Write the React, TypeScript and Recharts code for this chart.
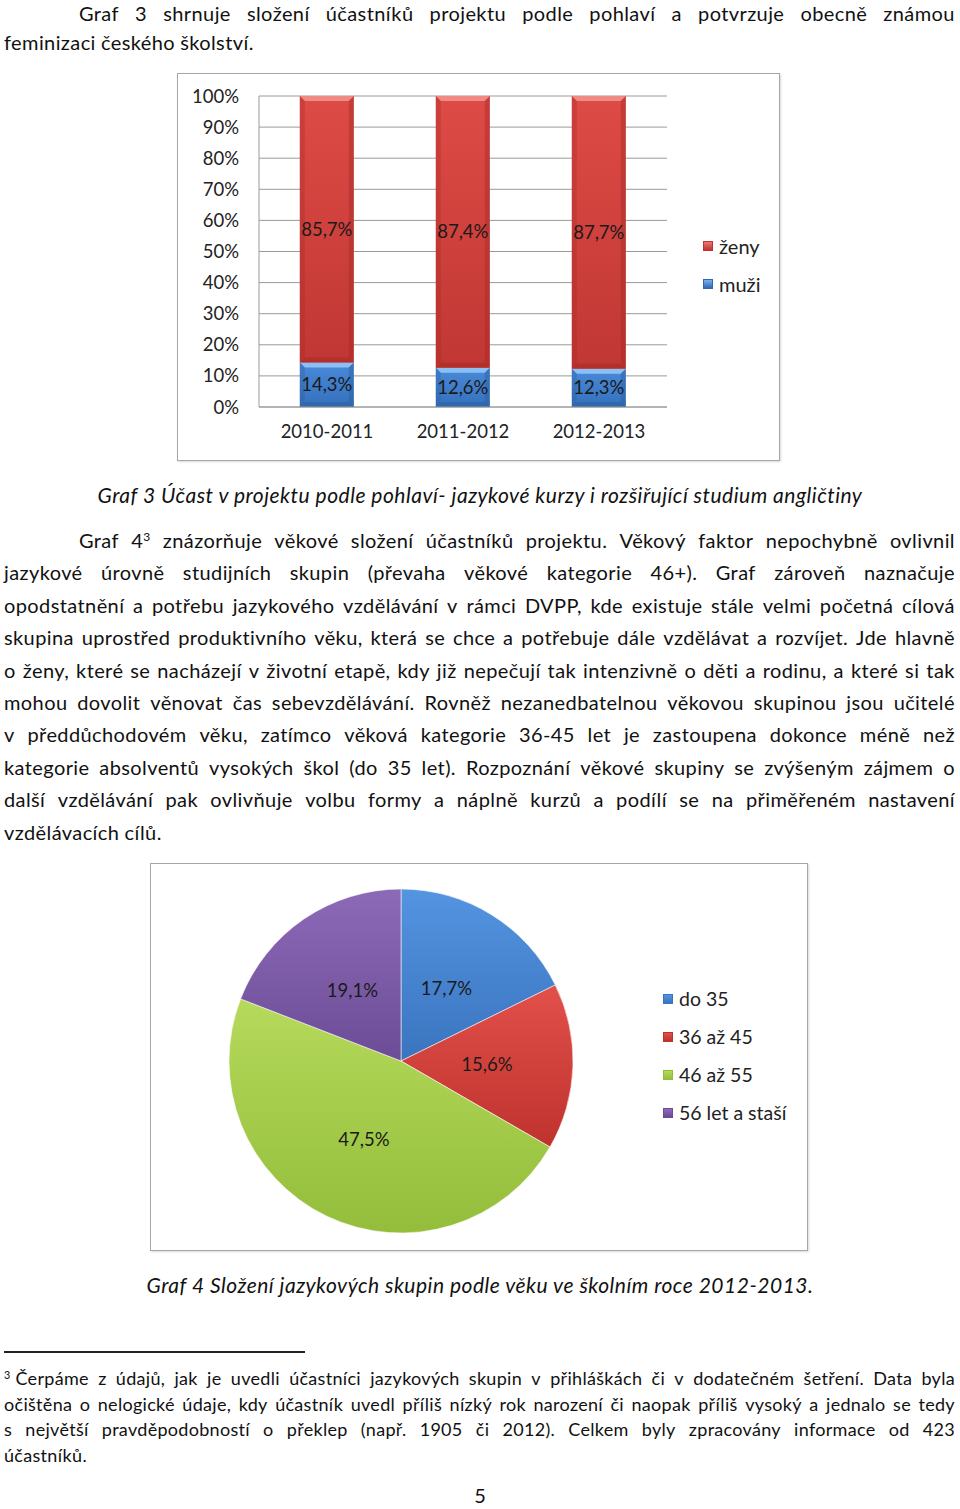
import React from "react";
import { BarChart, Bar, XAxis, YAxis, CartesianGrid, Legend, LabelList, PieChart, Pie, Cell } from "recharts";

// Graf 3 - gender split per school year
const years = ["2010-2011", "2011-2012", "2012-2013"];
const zenyPct = [85.7, 87.4, 87.7];
const muziPct = [14.3, 12.6, 12.3];
const yTicks = [0, 10, 20, 30, 40, 50, 60, 70, 80, 90, 100];

// Graf 4 - age groups 2012-2013
const ageGroups = ["do 35", "36 až 45", "46 až 55", "56 let a staší"];
const agePct = [17.7, 15.6, 47.5, 19.1];

const para1 = [
  "Graf 3 shrnuje složení účastníků projektu podle pohlaví a potvrzuje obecně známou",
  "feminizaci českého školství.",
];
const para2 = [
  "Graf 4^3 znázorňuje věkové složení účastníků projektu. Věkový faktor nepochybně ovlivnil",
  "jazykové úrovně studijních skupin (převaha věkové kategorie 46+). Graf zároveň naznačuje",
  "opodstatnění a potřebu jazykového vzdělávání v rámci DVPP, kde existuje stále velmi početná cílová",
  "skupina uprostřed produktivního věku, která se chce a potřebuje dále vzdělávat a rozvíjet. Jde hlavně",
  "o ženy, které se nacházejí v životní etapě, kdy již nepečují tak intenzivně o děti a rodinu, a které si tak",
  "mohou dovolit věnovat čas sebevzdělávání. Rovněž nezanedbatelnou věkovou skupinou jsou učitelé",
  "v předdůchodovém věku, zatímco věková kategorie 36-45 let je zastoupena dokonce méně než",
  "kategorie absolventů vysokých škol (do 35 let). Rozpoznání věkové skupiny se zvýšeným zájmem o",
  "další vzdělávání pak ovlivňuje volbu formy a náplně kurzů a podílí se na přiměřeném nastavení",
  "vzdělávacích cílů.",
];
const para2Y = [540, 572, 605, 637, 670, 702, 734, 767, 799, 832];
const footnote = [
  "^3\u00a0Čerpáme z údajů, jak je uvedli účastníci jazykových skupin v přihláškách či v dodatečném šetření. Data byla",
  "očištěna o nelogické údaje, kdy účastník uvedl příliš nízký rok narození či naopak příliš vysoký a jednalo se tedy",
  "s největší pravděpodobností o překlep (např. 1905 či 2012). Celkem byly zpracovány informace od 423",
  "účastníků.",
];
const footY = [1378, 1404, 1429, 1455];

const FONT = "Lato, 'Liberation Sans', sans-serif";
const TXT = "#111";

const pieColors = [
  ["#5494e0", "#3a74bf"],
  ["#e2504a", "#bf322e"],
  ["#b6da5c", "#93bd3a"],
  ["#8d6ab8", "#6c4c96"],
];

function Word({ w }: { w: string }) {
  const parts = w.split(/(\^\d)/);
  return (
    <span>
      {parts.map((p, i) =>
        p.startsWith("^") ? (
          <span key={i} style={{ fontSize: "0.6em", position: "relative", top: "-0.6em" }}>
            {p.slice(1)}
          </span>
        ) : (
          <React.Fragment key={i}>{p}</React.Fragment>
        )
      )}
    </span>
  );
}

function TextLine({ text, cy, left = 4, right = 955, size = 20, ls = 0.4, justify = true }: any) {
  const lh = size;
  const words = text.split(" ");
  return (
    <div
      style={{
        position: "absolute",
        top: Math.max(3, cy - lh / 2),
        left,
        width: right - left,
        height: lh,
        lineHeight: `${lh}px`,
        fontSize: size,
        letterSpacing: ls,
        whiteSpace: "nowrap",
        display: "flex",
        justifyContent: justify ? "space-between" : "flex-start",
        gap: justify ? 0 : "0.26em",
      }}
    >
      {words.map((w: string, i: number) => (
        <Word key={i} w={w} />
      ))}
    </div>
  );
}

function BevelBar(props: any) {
  const { x, y, width, height, dataKey } = props;
  if (!height || height <= 0) return null;
  const red = dataKey === "zeny";
  const b = Math.min(5, height / 2);
  const light = red ? "#f08a84" : "#8cc0f5";
  const dark = red ? "#a82a27" : "#2b5f9e";
  return (
    <g>
      <rect x={x} y={y} width={width} height={height} fill={red ? "url(#gRed)" : "url(#gBlue)"} />
      <polygon points={`${x},${y} ${x + width},${y} ${x + width - b},${y + b} ${x + b},${y + b}`} fill={light} />
      <polygon points={`${x},${y} ${x + b},${y + b} ${x + b},${y + height - b} ${x},${y + height}`} fill={dark} opacity={0.35} />
      <polygon points={`${x + width},${y} ${x + width - b},${y + b} ${x + width - b},${y + height - b} ${x + width},${y + height}`} fill={dark} opacity={0.45} />
      <polygon points={`${x},${y + height} ${x + b},${y + height - b} ${x + width - b},${y + height - b} ${x + width},${y + height}`} fill={dark} opacity={0.55} />
    </g>
  );
}

const pctFmt = (v: any) => `${Number(v).toFixed(1).replace(".", ",")}%`;

function LegendSquare({ top, bottom }: { top: string; bottom: string }) {
  return (
    <span
      style={{
        display: "inline-block",
        width: 10,
        height: 10,
        marginRight: 6,
        background: `linear-gradient(${top}, ${bottom})`,
        border: `1px solid ${bottom}`,
        boxSizing: "border-box",
      }}
    />
  );
}

function GenderLegend() {
  const items = [
    { name: "ženy", c: ["#ee7570", "#c0332f"] },
    { name: "muži", c: ["#79b1ef", "#2f68b0"] },
  ];
  return (
    <div style={{ fontFamily: FONT, fontSize: 20, color: "#222" }}>
      {items.map((it) => (
        <div key={it.name} style={{ height: 38, lineHeight: "38px", display: "flex", alignItems: "center" }}>
          <LegendSquare top={it.c[0]} bottom={it.c[1]} />
          {it.name}
        </div>
      ))}
    </div>
  );
}

function AgeLegend() {
  return (
    <div style={{ fontFamily: FONT, fontSize: 19.5, color: "#222" }}>
      {ageGroups.map((g, i) => (
        <div key={g} style={{ height: 38, lineHeight: "38px", display: "flex", alignItems: "center" }}>
          <LegendSquare top={pieColors[i][0]} bottom={pieColors[i][1]} />
          {g}
        </div>
      ))}
    </div>
  );
}

const RAD = Math.PI / 180;
function PieLabel(props: any) {
  const { cx, cy, midAngle, outerRadius, value } = props;
  const r = outerRadius * 0.5;
  const x = cx + r * Math.cos(-midAngle * RAD);
  const y = cy + r * Math.sin(-midAngle * RAD);
  return (
    <text x={x} y={y} textAnchor="middle" dominantBaseline="central" fill="#1a1a1a" fontSize={18.5} fontFamily={FONT}>
      {pctFmt(value)}
    </text>
  );
}

export default function App() {
  const barData = years.map((y, i) => ({ year: y, muzi: muziPct[i], zeny: zenyPct[i] }));
  const pieData = ageGroups.map((g, i) => ({ name: g, value: agePct[i] }));

  const box = {
    position: "absolute" as const,
    background: "#fff",
    border: "1px solid #a6a6a6",
    boxShadow: "1px 1px 2px rgba(0,0,0,0.15)",
  };

  const caption = (cy: number) => ({
    position: "absolute" as const,
    top: cy - 14,
    left: 0,
    width: 960,
    textAlign: "center" as const,
    fontStyle: "italic",
    fontSize: 21,
    letterSpacing: 0.5,
    lineHeight: "28px",
  });

  return (
    <div
      style={{
        position: "absolute",
        top: 0,
        left: 0,
        width: 960,
        height: 1509,
        background: "#fff",
        fontFamily: FONT,
        color: TXT,
        overflow: "hidden",
      }}
    >
      <TextLine text={para1[0]} cy={10} left={79} />
      <TextLine text={para1[1]} cy={42} justify={false} />

      <div style={{ ...box, left: 177, top: 73, width: 601, height: 386 }}>
        <BarChart
          width={601}
          height={386}
          data={barData}
          barCategoryGap="30%"
          margin={{ top: 22, right: 112, bottom: 0, left: 0 }}
        >
          <defs>
            <linearGradient id="gRed" x1="0" y1="0" x2="0" y2="1">
              <stop offset="0%" stopColor="#de4b46" />
              <stop offset="100%" stopColor="#c03733" />
            </linearGradient>
            <linearGradient id="gBlue" x1="0" y1="0" x2="0" y2="1">
              <stop offset="0%" stopColor="#4a8ad8" />
              <stop offset="100%" stopColor="#3570bd" />
            </linearGradient>
          </defs>
          <CartesianGrid vertical={false} stroke="#9a9a9a" />
          <XAxis
            dataKey="year"
            height={53}
            tickLine={false}
            tickSize={0}
            tickMargin={18}
            stroke="#9a9a9a"
            tick={{ fill: "#222", fontSize: 18.5, fontFamily: FONT }}
          />
          <YAxis
            width={81}
            domain={[0, 100]}
            ticks={yTicks}
            interval={0}
            tickFormatter={(v) => `${v}%`}
            tickLine={false}
            tickSize={0}
            tickMargin={20}
            stroke="#9a9a9a"
            tick={{ fill: "#222", fontSize: 18.5, fontFamily: FONT }}
          />
          <Legend
            layout="vertical"
            align="center"
            verticalAlign="middle"
            content={<GenderLegend />}
            wrapperStyle={{ left: 525, top: 153, width: 80 }}
          />
          <Bar dataKey="muzi" name="muži" stackId="a" shape={<BevelBar />} isAnimationActive={false}>
            <LabelList dataKey="muzi" position="center" formatter={pctFmt} fill="#1a1a1a" fontSize={18.5} fontFamily={FONT} />
          </Bar>
          <Bar dataKey="zeny" name="ženy" stackId="a" shape={<BevelBar />} isAnimationActive={false}>
            <LabelList dataKey="zeny" position="center" formatter={pctFmt} fill="#1a1a1a" fontSize={18.5} fontFamily={FONT} />
          </Bar>
        </BarChart>
      </div>

      <div style={caption(495)}>
        Graf 3 Účast v projektu podle pohlaví- jazykové kurzy i rozšiřující studium angličtiny
      </div>

      {para2.map((t, i) => (
        <TextLine key={i} text={t} cy={para2Y[i]} left={i === 0 ? 79 : 4} justify={i !== para2.length - 1} />
      ))}

      <div style={{ ...box, left: 150, top: 863, width: 656, height: 386 }}>
        <PieChart width={656} height={386} margin={{ top: 0, right: 0, bottom: 0, left: 0 }}>
          <defs>
            {pieColors.map((c, i) => (
              <linearGradient key={i} id={`gp${i}`} x1="0" y1="0" x2="0" y2="1">
                <stop offset="0%" stopColor={c[0]} />
                <stop offset="100%" stopColor={c[1]} />
              </linearGradient>
            ))}
          </defs>
          <Pie
            data={pieData}
            dataKey="value"
            nameKey="name"
            cx={250}
            cy={197}
            outerRadius={172}
            startAngle={90}
            endAngle={-270}
            stroke="rgba(255,255,255,0.55)"
            strokeWidth={1}
            label={PieLabel}
            labelLine={false}
            isAnimationActive={false}
          >
            {pieData.map((d, i) => (
              <Cell key={d.name} fill={`url(#gp${i})`} />
            ))}
          </Pie>
          <Legend
            layout="vertical"
            align="center"
            verticalAlign="middle"
            content={<AgeLegend />}
            wrapperStyle={{ left: 512, top: 116, width: 140 }}
          />
        </PieChart>
      </div>

      <div style={caption(1285)}>Graf 4 Složení jazykových skupin podle věku ve školním roce 2012-2013.</div>

      <div style={{ position: "absolute", left: 4, top: 1351, width: 301, height: 1.5, background: "#222" }} />
      {footnote.map((t, i) => (
        <TextLine key={i} text={t} cy={footY[i]} size={18} ls={0.3} justify={i !== footnote.length - 1} />
      ))}

      <div style={{ position: "absolute", top: 1485, left: 0, width: 960, textAlign: "center", fontSize: 20, lineHeight: "20px" }}>
        5
      </div>
    </div>
  );
}
